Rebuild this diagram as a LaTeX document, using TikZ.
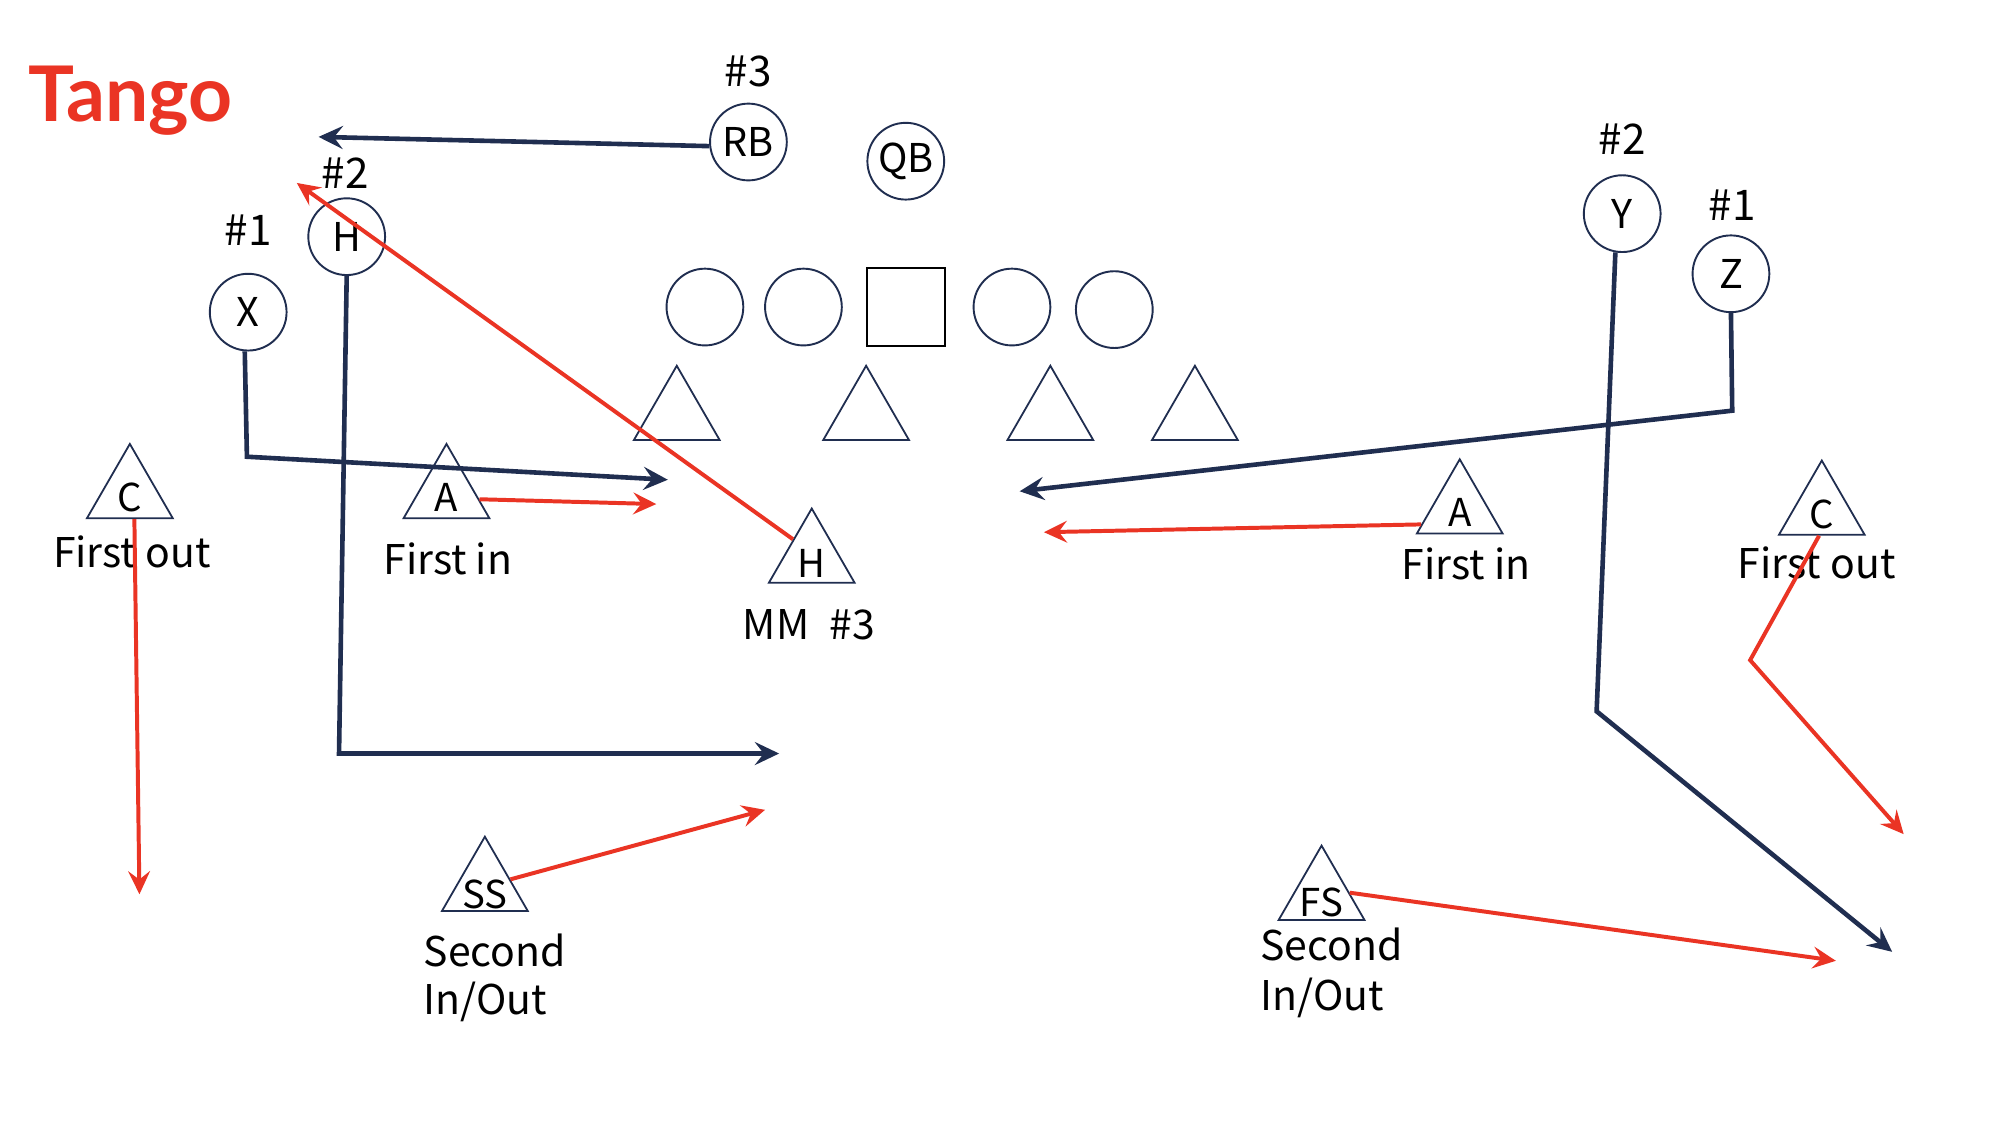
\documentclass[tikz,border=0pt]{standalone}
\usepackage{fontspec}
\setmainfont{Noto Sans CJK KR}
\newfontfamily\tangofont{Lato}
\usetikzlibrary{arrows.meta,shapes.geometric}
\definecolor{navy}{RGB}{32,46,80}
\definecolor{myred}{RGB}{234,52,36}
\begin{document}
\begin{tikzpicture}[x=1pt,y=-1pt,
  off/.style={circle,draw=navy,line width=1.5pt,minimum size=60pt,inner sep=0pt,font=\fontsize{31}{36}\selectfont},
  tri/.style={regular polygon,regular polygon sides=3,draw=navy,line width=1.4pt,minimum size=77.4pt,inner sep=0pt},
  ltr/.style={anchor=base,inner sep=0pt,font=\fontsize{30}{36}\selectfont},
  lbl/.style={anchor=base,inner sep=0pt,font=\fontsize{32}{38}\selectfont},
  lbll/.style={anchor=base west,inner sep=0pt,font=\fontsize{32}{38}\selectfont},
  num/.style={anchor=base,inner sep=0pt,font=\fontsize{33}{38}\selectfont},
  rt/.style={draw=navy,line width=3.6pt,-{Stealth[length=19pt,width=18pt,inset=7pt]}},
  rr/.style={draw=myred,line width=3.1pt,-{Stealth[length=18pt,width=17pt,inset=6.5pt]}},
]
\useasboundingbox[fill=white] (0,0) rectangle (1568,894);

% title
\node[anchor=base west,inner sep=0pt,text=myred,font=\tangofont\bfseries\fontsize{60}{66}\selectfont] (title) at (22,95) {Tango};

% offense
\node[off] (rb) at (585,111) {RB};
\node[off] (qb) at (708,126) {QB};
\node[off] (h) at (271,185) {H};
\node[off] (x) at (194,244) {X};
\node[off] (y) at (1268,167) {Y};
\node[off] (z) at (1353,214) {Z};
\node[off] (ol1) at (551,240) {};
\node[off] (ol2) at (628,240) {};
\node[draw=black,line width=1.5pt,minimum size=61pt,inner sep=0pt] (ctr) at (708,240) {};
\node[off] (ol3) at (791,240) {};
\node[off] (ol4) at (871,242) {};

\node[num] (n3) at (585,68) {\#3};
\node[num] (n2l) at (270,147) {\#2};
\node[num] (n1l) at (194,192) {\#1};
\node[num] (n2r) at (1268,121) {\#2};
\node[num] (n1r) at (1354,172) {\#1};

% defensive line
\node[tri] (dl1) at (529,324.6) {};
\node[tri] (dl2) at (677,324.6) {};
\node[tri] (dl3) at (821,324.6) {};
\node[tri] (dl4) at (934,324.6) {};

% labelled defenders
\node[tri] (cL) at (101.5,385.7) {};
\node[tri] (aL) at (349,385.7) {};
\node[tri] (mm) at (634.5,436.2) {};
\node[tri] (aR) at (1141,397.7) {};
\node[tri] (cR) at (1424,398.7) {};
\node[tri] (ss) at (379,692.7) {};
\node[tri] (fs) at (1033,699.7) {};

\node[ltr] (cLt) at ([yshift=6pt]cL.south) {C};
\node[ltr] (aLt) at ([yshift=6pt]aL.south) {A};
\node[ltr] (mmt) at ([yshift=5pt]mm.south) {H};
\node[ltr] (aRt) at ([yshift=6pt]aR.south) {A};
\node[ltr] (cRt) at ([yshift=6pt]cR.south) {C};
\node[ltr] (sst) at ([yshift=3pt]ss.south) {SS};
\node[ltr] (fst) at ([yshift=3pt]fs.south) {FS};

\node[lbl] (l1) at (103,443.5) {First out};
\node[lbl] (l2) at (350,449) {First in};
\node[lbl] (l3) at (632.5,500) {MM\hspace{16pt}\#3};
\node[lbl] (l4) at (1146,453) {First in};
\node[lbl] (l5) at (1420,452) {First out};
\node[lbll] (l6) at (331,755.6) {Second};
\node[lbll] (l7) at (331,792.6) {In/Out};
\node[lbll] (l8) at (985,751) {Second};
\node[lbll] (l9) at (985,789.6) {In/Out};

% route coordinates
\coordinate (rbE) at (249,107);
\coordinate (xC) at (193,357);
\coordinate (xE) at (522,375);
\coordinate (hC) at (265,589);
\coordinate (hE) at (609,589);
\coordinate (zC) at (1354,321);
\coordinate (zE) at (797,384);
\coordinate (yC) at (1248,556);
\coordinate (yE) at (1479,744);

\coordinate (mmE) at (232,143);
\coordinate (aLE) at (513,394);
\coordinate (cLE) at (109,699);
\coordinate (ssE) at (598,633);
\coordinate (aRE) at (816,416);
\coordinate (cRC) at (1368,516);
\coordinate (cRE) at (1488,652);
\coordinate (fsE) at (1435,751);

% offensive routes
\draw[rt] (rb.186) -- (rbE);
\draw[rt] (x.265) -- (xC) -- (xE);
\draw[rt] (h.south) -- (hC) -- (hE);
\draw[rt] (z.south) -- (zC) -- (zE);
\draw[rt] (y.260) -- (yC) -- (yE);

% defensive drops
\draw[rr] (mm.135) -- (mmE);
\draw[rr] (aL.-10) -- (aLE);
\draw[rr] (cL.-80) -- (cLE);
\draw[rr] (ss.15) -- (ssE);
\draw[rr] (aR.202) -- (aRE);
\draw[rr] (cR.-96) -- (cRC) -- (cRE);
\draw[rr] (fs.5) -- (fsE);
\end{tikzpicture}
\end{document}
